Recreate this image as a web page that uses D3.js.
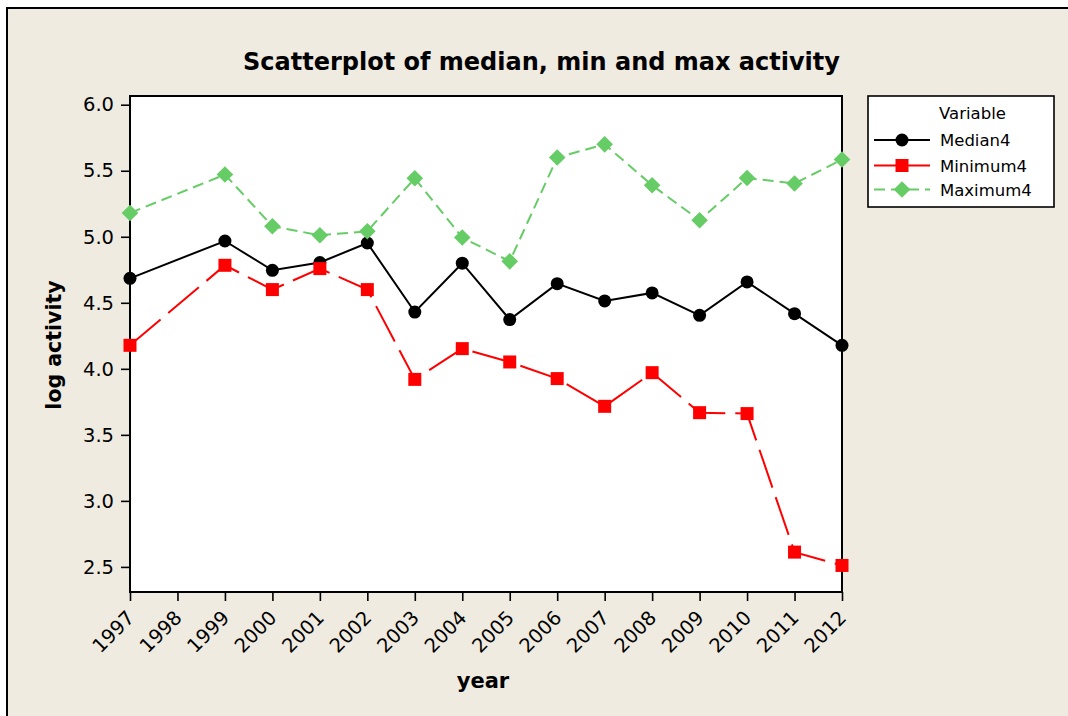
<!DOCTYPE html>
<html><head><meta charset="utf-8">
<script src="https://cdn.jsdelivr.net/npm/d3@7"></script>
<style>body{margin:0;background:#fff}svg{display:block}</style>
</head><body>
<svg id="c" width="1068" height="716"></svg>
<script>
const years = [1997,1999,2000,2001,2002,2003,2004,2005,2006,2007,2008,2009,2010,2011,2012];
const median4 = [4.685,4.968,4.746,4.805,4.953,4.43,4.80,4.373,4.645,4.514,4.575,4.405,4.658,4.418,4.178];
const minimum4 = [4.178,4.784,4.60,4.759,4.60,3.92,4.153,4.052,3.926,3.716,3.971,3.668,3.661,2.612,2.511];
const maximum4 = [5.18,5.471,5.08,5.011,5.042,5.443,4.994,4.814,5.60,5.70,5.39,5.125,5.445,5.403,5.585];
const xTicks = [1997,1998,1999,2000,2001,2002,2003,2004,2005,2006,2007,2008,2009,2010,2011,2012];
const yTicks = [2.5,3.0,3.5,4.0,4.5,5.0,5.5,6.0];
const seriesNames = ["Median4","Minimum4","Maximum4"];

const svg = d3.select("#c");
const F = "'DejaVu Sans', Verdana, sans-serif";
const bg = "#EFEBE1";

// frame
svg.append("rect").attr("x",7).attr("y",8).attr("width",1061).attr("height",708).attr("fill",bg);
svg.append("line").attr("x1",6).attr("x2",1068).attr("y1",8).attr("y2",8).attr("stroke","#000").attr("stroke-width",2);
svg.append("line").attr("x1",7).attr("x2",7).attr("y1",7).attr("y2",716).attr("stroke","#000").attr("stroke-width",2);

const L=130, R=842, T=96, B=592;
const x = d3.scaleLinear().domain([1997,2012]).range([L,R]);
const y = d3.scaleLinear().domain([2.31,6.066]).range([B,T]);

svg.append("rect").attr("x",L).attr("y",T).attr("width",R-L).attr("height",B-T)
  .attr("fill","#fff").attr("stroke","#000").attr("stroke-width",2);

// title
svg.append("text").attr("x",541.5).attr("y",70).attr("text-anchor","middle")
  .attr("font-family",F).attr("font-weight","bold").attr("font-size",24).attr("fill","#000")
  .text("Scatterplot of median, min and max activity");

// y axis
const yAxis = d3.axisLeft(y).tickValues(yTicks).tickFormat(d3.format(".1f")).tickSize(9).tickPadding(7);
const gy = svg.append("g").attr("transform",`translate(${L},0)`).call(yAxis);
gy.select(".domain").remove();
gy.selectAll("line").attr("stroke","#000").attr("stroke-width",1.6);
gy.selectAll("text").attr("font-family",F).attr("font-size",19.5).attr("fill","#000");

// x axis
const xAxis = d3.axisBottom(x).tickValues(xTicks).tickFormat(d3.format("d")).tickSize(9).tickPadding(0);
const gx = svg.append("g").attr("transform",`translate(0,${B})`).call(xAxis);
gx.select(".domain").remove();
gx.selectAll("line").attr("stroke","#000").attr("stroke-width",1.6);
gx.selectAll("text").attr("font-family",F).attr("font-size",19.5).attr("fill","#000")
  .attr("text-anchor","end").attr("dy",0).attr("y",0)
  .attr("transform","translate(5,27) rotate(-45)");

// axis titles
svg.append("text").attr("transform","translate(61,345) rotate(-90)").attr("text-anchor","middle")
  .attr("font-family",F).attr("font-weight","bold").attr("font-size",20.5).text("log activity");
svg.append("text").attr("x",483).attr("y",688).attr("text-anchor","middle")
  .attr("font-family",F).attr("font-weight","bold").attr("font-size",21).text("year");

// series
const series = [
  {name:seriesNames[0], vals:median4, color:"#000000", dash:null, sym:d3.symbolCircle, size:Math.PI*6.5*6.5},
  {name:seriesNames[1], vals:minimum4, color:"#FF0000", dash:"40,10", sym:d3.symbolSquare, size:13*13},
  {name:seriesNames[2], vals:maximum4, color:"#66CC66", dash:"11,6", sym:d3.symbolDiamond, size:0}
];
const diamond = (s) => `M0,${-s}L${s},0L0,${s}L${-s},0Z`;
const line = d3.line().x(d=>x(d[0])).y(d=>y(d[1]));
const plot = svg.append("g");
series.forEach(s=>{
  const pts = years.map((yr,i)=>[yr,s.vals[i]]);
  plot.append("path").datum(pts).attr("d",line).attr("fill","none")
    .attr("stroke",s.color).attr("stroke-width",2).attr("stroke-dasharray",s.dash);
});
series.forEach(s=>{
  const pts = years.map((yr,i)=>[yr,s.vals[i]]);
  plot.selectAll(null).data(pts).enter().append("path")
    .attr("transform",d=>`translate(${x(d[0])},${y(d[1])})`)
    .attr("d", s.sym===d3.symbolDiamond ? diamond(8.3) : d3.symbol(s.sym, s.size)())
    .attr("fill",s.color);
});

// legend
const lg = svg.append("g");
lg.append("rect").attr("x",868).attr("y",96).attr("width",186).attr("height",111)
  .attr("fill","#fff").attr("stroke","#000").attr("stroke-width",1.6);
lg.append("text").attr("x",972.5).attr("y",119).attr("text-anchor","middle")
  .attr("font-family",F).attr("font-size",16.5).attr("fill","#000").text("Variable");
const rowY = [140,165.5,189.5];
series.forEach((s,i)=>{
  const yy = rowY[i];
  lg.append("line").attr("x1",874).attr("x2",930).attr("y1",yy).attr("y2",yy)
    .attr("stroke",s.color).attr("stroke-width",2).attr("stroke-dasharray", i===2 ? "11,6" : null);
  lg.append("path").attr("transform",`translate(902,${yy})`)
    .attr("d", s.sym===d3.symbolDiamond ? diamond(8.3) : d3.symbol(s.sym, s.size)())
    .attr("fill",s.color);
  lg.append("text").attr("x",940).attr("y",yy+6).attr("font-family",F).attr("font-size",16.5)
    .attr("fill","#000").text(s.name);
});
</script>
</body></html>
